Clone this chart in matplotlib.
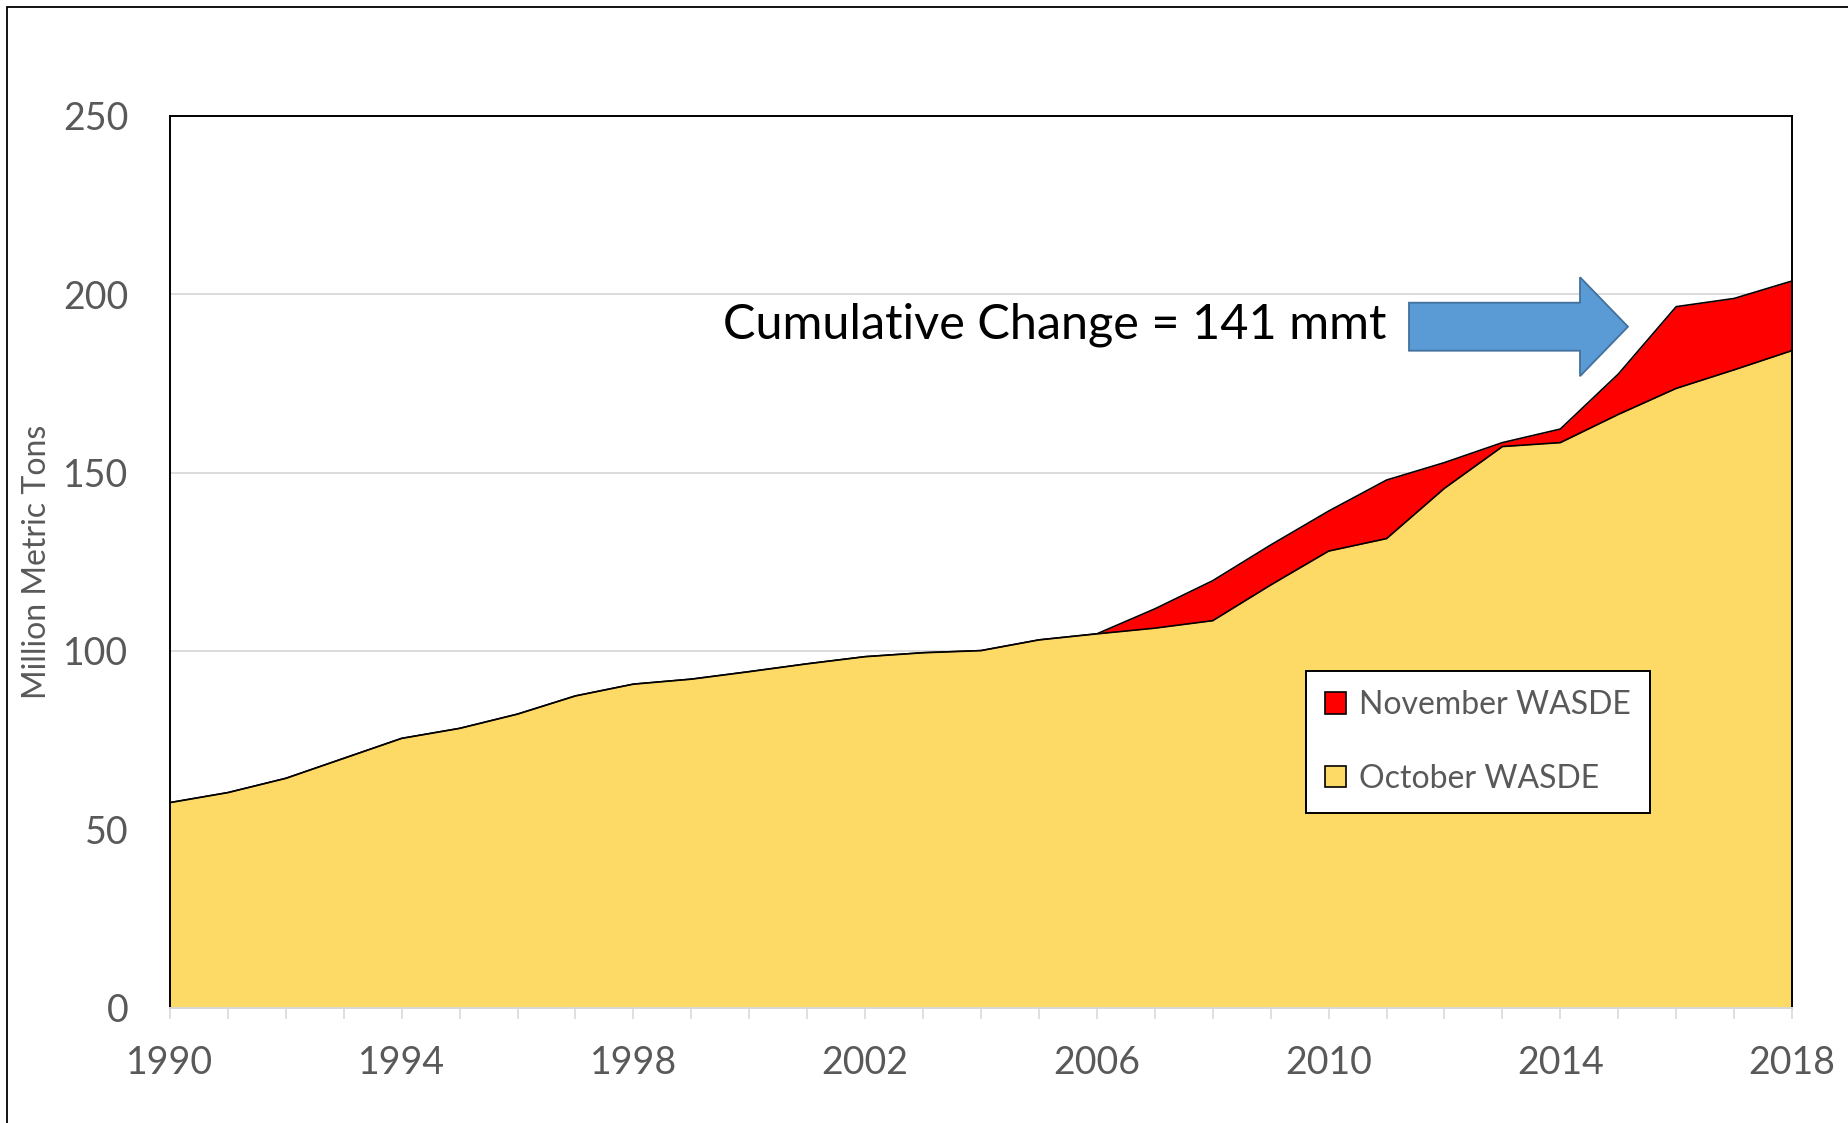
import matplotlib
matplotlib.use('Agg')
import matplotlib.pyplot as plt
from matplotlib.patches import Patch, FancyArrow, Rectangle

# Lato is the closest installed face to Calibri
plt.rcParams['font.family'] = ['Lato', 'DejaVu Sans']

# chart data (million metric tons)
years = list(range(1990, 2019))
october = [57.5, 60.3, 64.3, 69.9, 75.5, 78.3, 82.3, 87.4, 90.7, 92.1,
           94.2, 96.4, 98.4, 99.5, 100.1, 103.1, 104.8, 106.4, 108.5, 118.5,
           128.0, 131.5, 145.6, 157.3, 158.4, 166.3, 173.6, 178.8, 184.2]
november = [57.5, 60.3, 64.3, 69.9, 75.5, 78.3, 82.3, 87.4, 90.7, 92.1,
            94.2, 96.4, 98.4, 99.5, 100.1, 103.1, 104.8, 111.8, 119.7, 129.7,
            139.2, 147.9, 152.8, 158.4, 162.2, 177.6, 196.5, 198.8, 203.7]
series_labels = ['November WASDE', 'October WASDE']
year_labels = [1990, 1994, 1998, 2002, 2006, 2010, 2014, 2018]
y_ticks = [0, 50, 100, 150, 200, 250]
note = 'Cumulative Change = 141 mmt'

RED = '#FF0000'
GOLD = '#FDD966'
GREY_TXT = '#595959'
GRID = '#D9D9D9'

fig = plt.figure(figsize=(18.49, 11.23), dpi=100)
ax = fig.add_axes([0.0919, 0.1026, 0.8773, 0.7943])

# areas: November behind, October in front
ax.fill_between(years, november, color=RED, linewidth=0, zorder=1)
ax.plot(years, november, color='black', lw=1.2, zorder=1.5)
ax.fill_between(years, october, color=GOLD, linewidth=0, zorder=2)
ax.plot(years, october, color='black', lw=1.2, zorder=2.1)

# axes ranges and ticks
ax.set_xlim(years[0], years[-1])
ax.set_ylim(0, 250)
ax.set_yticks(y_ticks)
ax.set_xticks(year_labels)
ax.set_xticks(years, minor=True)
ax.tick_params(axis='y', length=0, pad=30, labelsize=27, labelcolor=GREY_TXT)
ax.tick_params(axis='x', which='both', length=8, width=1.2, color=GRID,
               pad=19, labelsize=27, labelcolor=GREY_TXT)
ax.grid(axis='y', color=GRID, lw=1.3)
ax.set_axisbelow(True)

for side in ['left', 'top', 'right']:
    ax.spines[side].set_color('black')
    ax.spines[side].set_linewidth(1.4)
    ax.spines[side].set_zorder(3)
ax.spines['bottom'].set_color(GRID)
ax.spines['bottom'].set_linewidth(1.4)
ax.spines['bottom'].set_zorder(3)

ax.set_ylabel('Million Metric Tons', fontsize=23, color=GREY_TXT)
ax.yaxis.set_label_coords(-0.0725, 0.5)

# legend
handles = [Patch(facecolor=RED, edgecolor='black', lw=1.2),
           Patch(facecolor=GOLD, edgecolor='black', lw=1.2)]
leg = ax.legend(handles, series_labels, loc='upper left',
                bbox_to_anchor=(0.7002, 0.3776), fontsize=23,
                frameon=True, fancybox=False, framealpha=1,
                handlelength=0.65, handleheight=0.65, handletextpad=0.42,
                labelspacing=1.36, borderpad=0.6, borderaxespad=0)
leg.get_frame().set_edgecolor('black')
leg.get_frame().set_linewidth(1.4)
for t in leg.get_texts():
    t.set_color(GREY_TXT)
leg.set_zorder(5)

# annotation text and blue arrow
fig.text(723 / 1849, 1 - 338.3 / 1123, note, fontsize=35, color='black',
         ha='left', va='baseline')
arrow = FancyArrow(1409 / 1849, 1 - 326.7 / 1123, 219 / 1849, 0,
                   width=48 / 1123, head_width=99 / 1123,
                   head_length=48 / 1849, length_includes_head=True,
                   transform=fig.transFigure, facecolor='#5B9BD5',
                   edgecolor='#41719C', lw=1.3, zorder=6)
fig.add_artist(arrow)

# outer chart border (only top and left visible in the picture)
border = Rectangle((7.5 / 1849, -0.1), 1.2, 1.1 - 7.2 / 1123, fill=False,
                   edgecolor='black', lw=1.3, transform=fig.transFigure,
                   clip_on=False)
fig.add_artist(border)

fig.savefig('out.png', dpi=100)
